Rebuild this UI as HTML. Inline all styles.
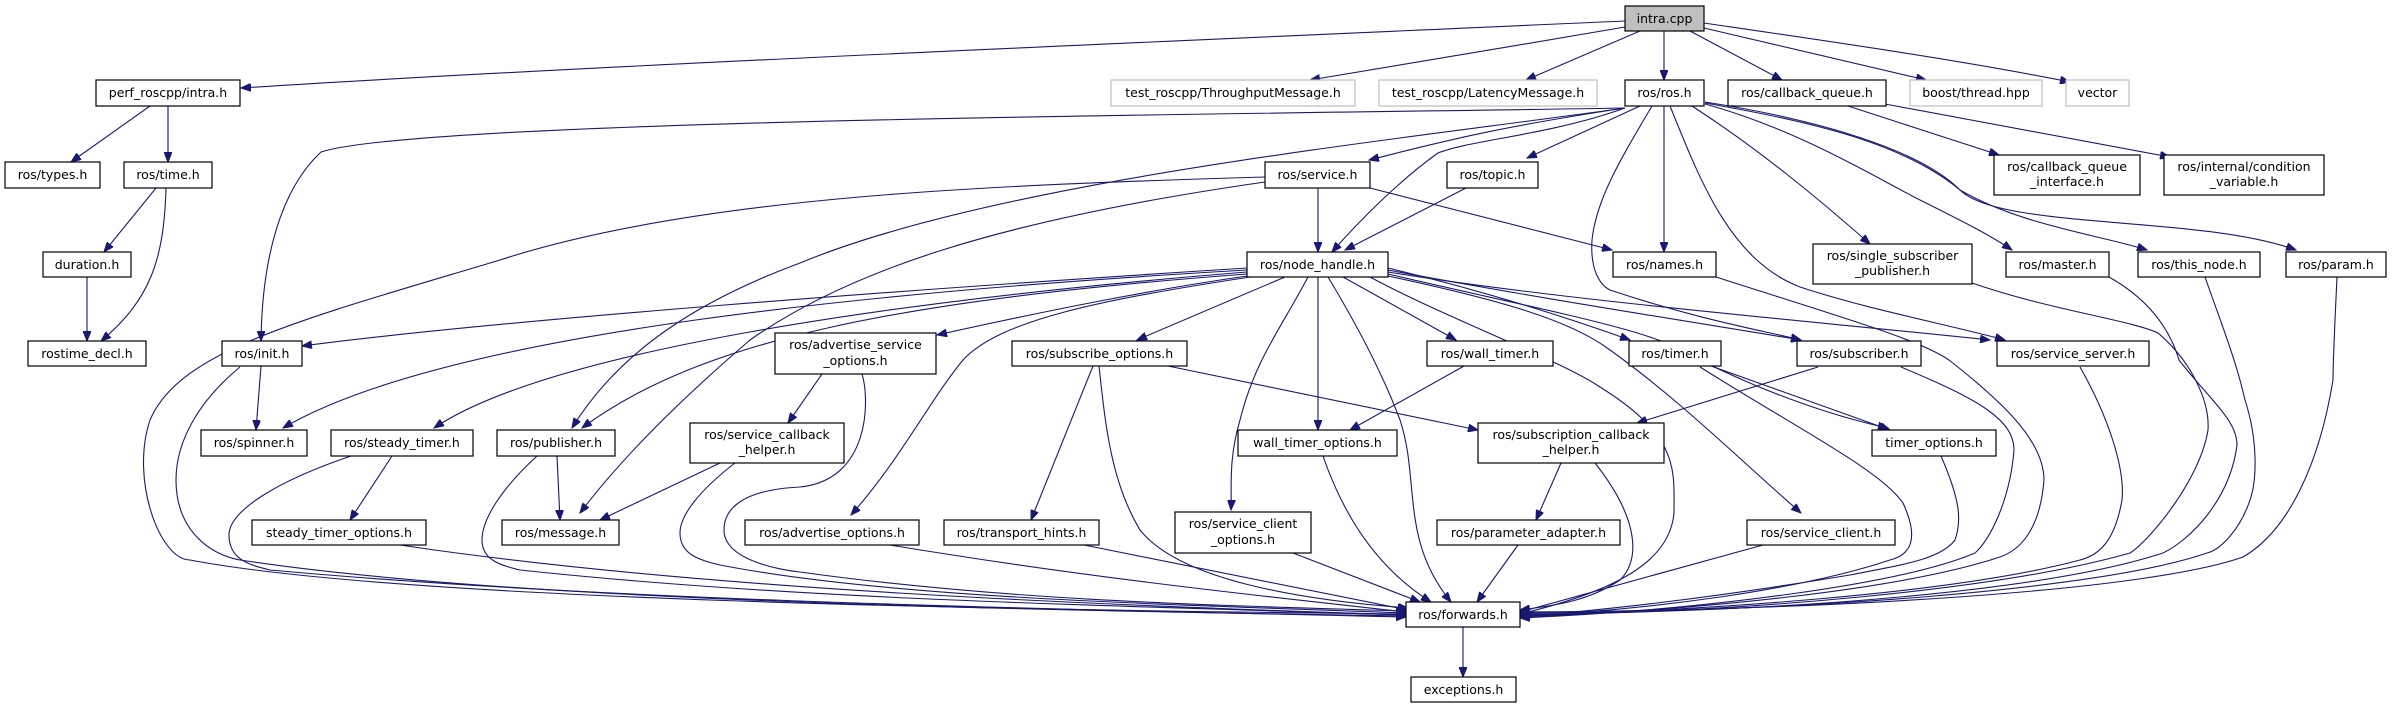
<!DOCTYPE html>
<html><head><meta charset="utf-8"><style>
html,body{margin:0;padding:0;background:#fff;}
svg{display:block;}
text{font-family:"DejaVu Sans","Liberation Sans",sans-serif;font-size:12.5px;fill:#000;}
path.e{fill:none;stroke:#191970;stroke-width:1.1;marker-end:url(#a);}
rect.n{fill:#fff;stroke:#000;stroke-width:1.2;}
rect.g{fill:#fff;stroke:#bfbfbf;stroke-width:1.2;}
</style></head><body>
<svg width="2392" height="708" viewBox="0 0 2392 708" xmlns="http://www.w3.org/2000/svg">
<defs><marker id="a" markerUnits="userSpaceOnUse" markerWidth="11" markerHeight="8" refX="10" refY="4" orient="auto"><path d="M0,0 L10,4 L0,8 z" fill="#191970" stroke="#191970"/></marker></defs>
<g>
<!-- intra.cpp -->
<path class="e" d="M1625,21 C1200,40 600,65 241,88"/>
<path class="e" d="M1625,27 C1520,45 1400,65 1310,80"/>
<path class="e" d="M1640,31 L1526,80"/>
<path class="e" d="M1664,31 L1664,80"/>
<path class="e" d="M1690,31 L1782,80"/>
<path class="e" d="M1704,28 L1926,80"/>
<path class="e" d="M1704,23 C1820,40 1960,60 2070,82"/>
<!-- perf intra -->
<path class="e" d="M150,106 L71,162"/>
<path class="e" d="M168,106 L168,162"/>
<path class="e" d="M156,188 L104,252"/>
<path class="e" d="M166,188 C164,260 150,300 101,341"/>
<path class="e" d="M87,277 L87,341"/>
<!-- ros.h out -->
<path class="e" d="M1625,108 C1200,115 420,120 321,152 C280,190 262,260 261,341"/>
<path class="e" d="M1625,108 C1480,130 1430,145 1369,160"/>
<path class="e" d="M1625,108 C1550,135 1470,140 1438,153 C1400,180 1360,220 1332,252"/>
<path class="e" d="M1640,106 L1527,158"/>
<path class="e" d="M1625,108 C1400,140 1000,180 800,263 C700,300 620,350 572,428"/>
<path class="e" d="M1664,106 L1664,252"/>
<path class="e" d="M1652,106 C1620,160 1596,200 1592,240 C1590,270 1600,285 1610,290 C1700,320 1760,330 1801,340"/>
<path class="e" d="M1670,106 C1700,180 1730,260 1800,287 C1870,310 1950,325 2005,340"/>
<path class="e" d="M1692,106 C1760,150 1820,200 1870,244"/>
<path class="e" d="M1705,104 C1800,130 1880,180 1920,200 C1960,220 1990,235 2012,250"/>
<path class="e" d="M1705,103 C1800,120 1900,140 1960,190 C2020,225 2100,235 2147,250"/>
<path class="e" d="M1705,102 C1820,120 1920,150 1960,190 C2000,230 2200,215 2296,250"/>
<!-- callback_queue -->
<path class="e" d="M1848,106 L1999,155"/>
<path class="e" d="M1885,104 L2170,157"/>
<!-- service.h -->
<path class="e" d="M1318,188 L1318,252"/>
<path class="e" d="M1370,188 L1612,250"/>
<path class="e" d="M1265,177 C1000,185 700,195 500,260 C300,320 180,350 150,420 C130,480 160,560 190,560 C400,600 1000,610 1406,614"/>
<path class="e" d="M1265,182 C1000,220 850,270 750,340 C680,400 620,460 580,513"/>
<path class="e" d="M1466,188 L1345,250"/>
<!-- node_handle out -->
<path class="e" d="M1247,268 C900,290 500,320 302,346"/>
<path class="e" d="M1247,270 C900,290 450,330 283,428"/>
<path class="e" d="M1247,272 C900,300 550,350 434,428"/>
<path class="e" d="M1247,274 C900,300 700,340 582,428"/>
<path class="e" d="M1247,276 C1150,290 1050,310 937,335"/>
<path class="e" d="M1250,277 C1100,300 1000,320 963,360 C930,400 900,460 851,515"/>
<path class="e" d="M1285,277 L1137,340"/>
<path class="e" d="M1308,277 C1280,330 1255,360 1240,420 C1228,460 1232,490 1231,510"/>
<path class="e" d="M1318,277 L1318,430"/>
<path class="e" d="M1328,277 C1360,330 1385,380 1400,420 C1420,480 1400,540 1451,602"/>
<path class="e" d="M1343,277 L1456,340"/>
<path class="e" d="M1388,268 C1480,290 1560,315 1630,340"/>
<path class="e" d="M1388,270 C1520,295 1680,320 1801,340"/>
<path class="e" d="M1388,272 C1560,300 1800,320 1990,340"/>
<path class="e" d="M1388,274 C1540,310 1660,330 1700,360 C1780,400 1850,420 1888,428"/>
<path class="e" d="M1388,276 C1500,300 1570,320 1610,350 C1680,400 1740,460 1801,513"/>
<path class="e" d="M1370,277 C1450,320 1560,360 1600,387 C1680,437 1674,470 1674,513 C1670,560 1620,590 1520,614"/>
<!-- lower -->
<path class="e" d="M261,366 L256,430"/>
<path class="e" d="M240,367 C200,400 176,440 176,480 C176,530 210,555 240,560 C500,600 1000,610 1406,616"/>
<path class="e" d="M392,456 L350,520"/>
<path class="e" d="M351,456 C280,480 229,510 229,535 C229,560 250,565 270,570 C600,600 1000,608 1406,617"/>
<path class="e" d="M557,456 L560,520"/>
<path class="e" d="M537,456 C500,490 482,520 482,540 C482,560 500,565 520,570 C800,600 1100,605 1406,615"/>
<path class="e" d="M720,463 L600,520"/>
<path class="e" d="M735,463 C700,490 680,515 680,533 C680,555 700,560 720,565 C900,600 1200,605 1406,613"/>
<path class="e" d="M822,374 L788,423"/>
<path class="e" d="M862,374 C870,400 870,480 800,487 C740,490 724,510 724,530 C724,560 780,570 800,572 C1000,600 1200,605 1406,611"/>
<path class="e" d="M400,545 C700,590 1100,605 1406,615"/>
<path class="e" d="M890,545 C1100,580 1300,600 1406,612"/>
<path class="e" d="M1093,366 L1031,520"/>
<path class="e" d="M1168,366 L1478,430"/>
<path class="e" d="M1099,366 C1105,420 1110,480 1140,530 C1180,580 1300,600 1408,608"/>
<path class="e" d="M1084,545 L1408,610"/>
<path class="e" d="M1293,553 L1420,602"/>
<path class="e" d="M1323,456 C1345,520 1380,570 1431,602"/>
<path class="e" d="M1464,366 L1350,430"/>
<path class="e" d="M1561,463 L1536,520"/>
<path class="e" d="M1518,545 L1477,602"/>
<path class="e" d="M1595,463 C1640,520 1640,560 1620,580 C1590,600 1560,605 1520,610"/>
<path class="e" d="M1763,545 L1520,612"/>
<path class="e" d="M1711,366 L1890,430"/>
<path class="e" d="M1700,367 C1800,430 1880,470 1903,503 C1920,540 1910,555 1890,560 C1800,590 1650,610 1520,616"/>
<path class="e" d="M1941,456 C1960,500 1962,520 1955,540 C1940,560 1900,565 1850,575 C1700,600 1600,610 1520,617"/>
<path class="e" d="M1818,367 L1637,423"/>
<path class="e" d="M1901,367 C1980,400 2014,420 2014,450 C2010,500 1990,540 1975,553 C1900,585 1700,610 1520,618"/>
<path class="e" d="M1716,277 C1850,320 1920,340 1949,360 C2000,400 2044,440 2044,480 C2040,530 2020,550 2000,557 C1900,590 1700,610 1520,617"/>
<path class="e" d="M2080,367 C2110,420 2125,470 2122,500 C2115,540 2100,555 2080,560 C1950,595 1700,610 1520,616"/>
<path class="e" d="M1972,283 C2050,310 2130,320 2158,333 C2190,360 2210,400 2208,430 C2200,480 2150,540 2130,553 C2000,590 1750,612 1520,615"/>
<path class="e" d="M2109,277 C2150,300 2170,330 2179,360 C2210,400 2237,420 2237,445 C2230,500 2190,540 2163,553 C2050,590 1800,612 1520,614"/>
<path class="e" d="M2205,277 C2220,320 2236,360 2245,400 C2258,440 2257,480 2250,500 C2240,530 2220,550 2207,553 C2100,590 1800,612 1520,613"/>
<path class="e" d="M2337,277 C2335,320 2333,360 2333,380 C2320,460 2290,530 2243,557 C2150,590 1850,610 1520,612"/>
<path class="e" d="M1463,627 L1463,677"/>
</g>
<g>
<rect x="1625" y="6" width="79" height="25" fill="#bfbfbf" stroke="#000" stroke-width="1.2"/><text x="1664.5" y="23" text-anchor="middle">intra.cpp</text>
<rect class="n" x="96" y="80" width="144" height="26"/><text x="168" y="97" text-anchor="middle">perf_roscpp/intra.h</text>
<rect class="g" x="1111" y="80" width="244" height="26"/><text x="1233" y="97" text-anchor="middle">test_roscpp/ThroughputMessage.h</text>
<rect class="g" x="1379" y="80" width="218" height="26"/><text x="1488" y="97" text-anchor="middle">test_roscpp/LatencyMessage.h</text>
<rect class="n" x="1625" y="80" width="79" height="26"/><text x="1664.5" y="97" text-anchor="middle">ros/ros.h</text>
<rect class="n" x="1728" y="80" width="158" height="26"/><text x="1807" y="97" text-anchor="middle">ros/callback_queue.h</text>
<rect class="g" x="1910" y="80" width="132" height="26"/><text x="1976" y="97" text-anchor="middle">boost/thread.hpp</text>
<rect class="g" x="2066" y="80" width="63" height="26"/><text x="2097.5" y="97" text-anchor="middle">vector</text>
<rect class="n" x="5" y="162" width="95" height="26"/><text x="52.5" y="179" text-anchor="middle">ros/types.h</text>
<rect class="n" x="124" y="162" width="88" height="26"/><text x="168" y="179" text-anchor="middle">ros/time.h</text>
<rect class="n" x="1265" y="162" width="105" height="26"/><text x="1317.5" y="179" text-anchor="middle">ros/service.h</text>
<rect class="n" x="1447" y="162" width="91" height="26"/><text x="1492.5" y="179" text-anchor="middle">ros/topic.h</text>
<rect class="n" x="1994" y="155" width="146" height="40"/><text x="2067" y="171" text-anchor="middle">ros/callback_queue</text><text x="2067" y="186" text-anchor="middle">_interface.h</text>
<rect class="n" x="2164" y="155" width="160" height="40"/><text x="2244" y="171" text-anchor="middle">ros/internal/condition</text><text x="2244" y="186" text-anchor="middle">_variable.h</text>
<rect class="n" x="43" y="252" width="88" height="25"/><text x="87" y="269" text-anchor="middle">duration.h</text>
<rect class="n" x="1247" y="252" width="141" height="25"/><text x="1317.5" y="269" text-anchor="middle">ros/node_handle.h</text>
<rect class="n" x="1613" y="252" width="103" height="25"/><text x="1664.5" y="269" text-anchor="middle">ros/names.h</text>
<rect class="n" x="1813" y="244" width="159" height="40"/><text x="1892.5" y="260" text-anchor="middle">ros/single_subscriber</text><text x="1892.5" y="275" text-anchor="middle">_publisher.h</text>
<rect class="n" x="2006" y="252" width="103" height="25"/><text x="2057.5" y="269" text-anchor="middle">ros/master.h</text>
<rect class="n" x="2138" y="252" width="122" height="25"/><text x="2199" y="269" text-anchor="middle">ros/this_node.h</text>
<rect class="n" x="2286" y="252" width="100" height="25"/><text x="2336" y="269" text-anchor="middle">ros/param.h</text>
<rect class="n" x="28" y="341" width="118" height="25"/><text x="87" y="358" text-anchor="middle">rostime_decl.h</text>
<rect class="n" x="222" y="341" width="80" height="25"/><text x="262" y="358" text-anchor="middle">ros/init.h</text>
<rect class="n" x="775" y="333" width="161" height="41"/><text x="855.5" y="349" text-anchor="middle">ros/advertise_service</text><text x="855.5" y="365" text-anchor="middle">_options.h</text>
<rect class="n" x="1012" y="341" width="175" height="25"/><text x="1099.5" y="358" text-anchor="middle">ros/subscribe_options.h</text>
<rect class="n" x="1427" y="341" width="126" height="25"/><text x="1490" y="358" text-anchor="middle">ros/wall_timer.h</text>
<rect class="n" x="1629" y="341" width="92" height="25"/><text x="1675" y="358" text-anchor="middle">ros/timer.h</text>
<rect class="n" x="1797" y="341" width="124" height="25"/><text x="1859" y="358" text-anchor="middle">ros/subscriber.h</text>
<rect class="n" x="1997" y="341" width="152" height="25"/><text x="2073" y="358" text-anchor="middle">ros/service_server.h</text>
<rect class="n" x="201" y="430" width="106" height="26"/><text x="254" y="447" text-anchor="middle">ros/spinner.h</text>
<rect class="n" x="331" y="430" width="142" height="26"/><text x="402" y="447" text-anchor="middle">ros/steady_timer.h</text>
<rect class="n" x="497" y="430" width="118" height="26"/><text x="556" y="447" text-anchor="middle">ros/publisher.h</text>
<rect class="n" x="690" y="423" width="154" height="40"/><text x="767" y="439" text-anchor="middle">ros/service_callback</text><text x="767" y="454" text-anchor="middle">_helper.h</text>
<rect class="n" x="1238" y="430" width="159" height="26"/><text x="1317.5" y="447" text-anchor="middle">wall_timer_options.h</text>
<rect class="n" x="1478" y="423" width="186" height="40"/><text x="1571" y="439" text-anchor="middle">ros/subscription_callback</text><text x="1571" y="454" text-anchor="middle">_helper.h</text>
<rect class="n" x="1872" y="430" width="124" height="26"/><text x="1934" y="447" text-anchor="middle">timer_options.h</text>
<rect class="n" x="252" y="520" width="174" height="25"/><text x="339" y="537" text-anchor="middle">steady_timer_options.h</text>
<rect class="n" x="502" y="520" width="117" height="25"/><text x="560.5" y="537" text-anchor="middle">ros/message.h</text>
<rect class="n" x="745" y="520" width="174" height="25"/><text x="832" y="537" text-anchor="middle">ros/advertise_options.h</text>
<rect class="n" x="944" y="520" width="155" height="25"/><text x="1021.5" y="537" text-anchor="middle">ros/transport_hints.h</text>
<rect class="n" x="1175" y="512" width="136" height="41"/><text x="1243" y="528" text-anchor="middle">ros/service_client</text><text x="1243" y="544" text-anchor="middle">_options.h</text>
<rect class="n" x="1437" y="520" width="183" height="25"/><text x="1528.5" y="537" text-anchor="middle">ros/parameter_adapter.h</text>
<rect class="n" x="1747" y="520" width="148" height="25"/><text x="1821" y="537" text-anchor="middle">ros/service_client.h</text>
<rect class="n" x="1406" y="602" width="114" height="25"/><text x="1463" y="619" text-anchor="middle">ros/forwards.h</text>
<rect class="n" x="1411" y="677" width="105" height="25"/><text x="1463.5" y="694" text-anchor="middle">exceptions.h</text>
</g>
</svg>
</body></html>
